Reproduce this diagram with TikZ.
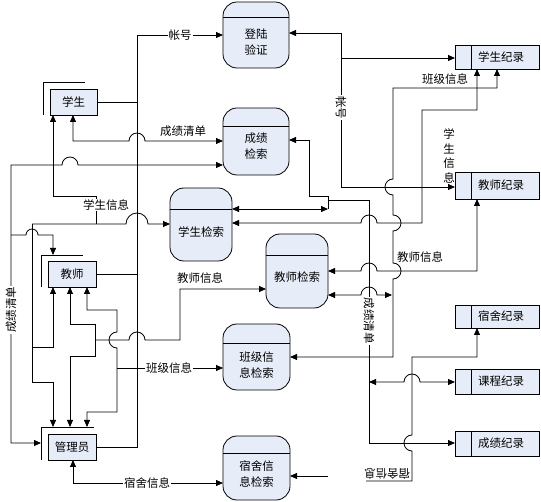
\documentclass[tikz,border=0pt]{standalone}
\usepackage{fontspec}
\newfontfamily\cjk{Noto Sans CJK SC}
\usetikzlibrary{arrows.meta}
\definecolor{boxfill}{RGB}{231,237,248}
\begin{document}
\begin{tikzpicture}[x=1pt,y=1pt,line width=0.8pt,
  >={Triangle[length=7pt,width=6pt]},
  every node/.style={font=\cjk\fontsize{11.5}{16}\selectfont},
  proc/.style={draw,fill=boxfill,rounded corners=14pt,inner sep=0pt,outer sep=0pt},
  store/.style={draw,fill=boxfill,inner sep=0pt,outer sep=0pt,minimum width=84pt},
  ent/.style={draw,fill=boxfill,inner sep=0pt,outer sep=0pt},
  lab/.style={fill=white,inner sep=1pt}]
\useasboundingbox (0,0) rectangle (541,-502);

% external entities
\node[ent,minimum width=47pt,minimum height=26pt] (E1) at (73.5,-102) {学生};
\node[ent,minimum width=48pt,minimum height=26pt] (E2) at (72,-274) {教师};
\node[ent,minimum width=48pt,minimum height=26pt] (E3) at (72,-447) {管理员};
\draw ([xshift=-7pt]E1.south west) -- ([xshift=-7pt,yshift=7pt]E1.north west) -- ([xshift=35pt,yshift=7pt]E1.north west);
\draw ([xshift=-7pt]E2.south west) -- ([xshift=-7pt,yshift=6pt]E2.north west) -- ([xshift=35pt,yshift=6pt]E2.north west);
\draw ([xshift=-7pt]E3.south west) -- ([xshift=-7pt,yshift=7pt]E3.north west) -- ([xshift=46pt,yshift=7pt]E3.north west);
\coordinate (E2n) at ([yshift=6pt]E2.north);
\coordinate (E3n) at ([yshift=7pt]E3.north);
\coordinate (E3w) at ([xshift=-7pt]E3.west);

% processes
\node[proc,minimum width=66pt,minimum height=66pt,label={[yshift=-7pt,align=center]center:登陆\\验证}] (P1) at (256,-35) {};
\node[proc,minimum width=66pt,minimum height=67pt,label={[yshift=-4.5pt,align=center]center:成绩\\检索}] (P2) at (256,-141.5) {};
\node[proc,minimum width=62pt,minimum height=73pt,label={[yshift=-7.5pt]center:学生检索}] (P3) at (201,-224.5) {};
\node[proc,minimum width=62pt,minimum height=74pt,label={[yshift=-6pt]center:教师检索}] (P4) at (297,-271) {};
\node[proc,minimum width=67pt,minimum height=66pt,label={[yshift=-8pt,align=center]center:班级信\\息检索}] (P5) at (256.5,-357) {};
\node[proc,minimum width=67pt,minimum height=64pt,label={[yshift=-6.5pt,align=center]center:宿舍信\\息检索}] (P6) at (256.5,-468) {};
\draw ([yshift=-15pt]P1.north west) -- ([yshift=-15pt]P1.north east);
\draw ([yshift=-18pt]P2.north west) -- ([yshift=-18pt]P2.north east);
\draw ([yshift=-21pt]P3.north west) -- ([yshift=-21pt]P3.north east);
\draw ([yshift=-21pt]P4.north west) -- ([yshift=-21pt]P4.north east);
\draw ([yshift=-19pt]P5.north west) -- ([yshift=-19pt]P5.north east);
\draw ([yshift=-17pt]P6.north west) -- ([yshift=-17pt]P6.north east);

% data stores
\node[store,minimum height=24pt,label={[xshift=4pt]center:学生纪录}] (S1) at (497,-57) {};
\node[store,minimum height=27pt,label={[xshift=4pt]center:教师纪录}] (S2) at (497,-185.5) {};
\node[store,minimum height=23pt,label={[xshift=4pt]center:宿舍纪录}] (S3) at (497,-316.5) {};
\node[store,minimum height=25pt,label={[xshift=4pt]center:课程纪录}] (S4) at (497,-381.5) {};
\node[store,minimum height=25pt,label={[xshift=4pt]center:成绩纪录}] (S5) at (497,-443.5) {};
\foreach \s in {S1,S2,S3,S4,S5}
  \draw ([xshift=16pt]\s.north west) -- ([xshift=16pt]\s.south west);

% 帐号 bus
\draw[->] (E3.east) -- (137,-447) -- (137,-35) -- (P1.west |- 0,-35);
\draw (E1.east) -- (137,-102);
\draw (E2.east) -- (137,-274);
\node[lab] (L1) at (180,-35) {帐号};

% 成绩清单 to 学生
\draw[<->] (E1.south -| 73,0) -- (73,-141) -- (129,-141) arc[start angle=180,end angle=0,radius=8] -- (P2.west |- 0,-141);
\node (L2) at (183,-131) {成绩清单};

% 成绩清单 to 管理员
\draw[<->] (P2.west |- 0,-165) -- (78,-165) arc[start angle=0,end angle=180,radius=8] -- (11,-165) -- (11,-443) -- (E3w |- 0,-443);
\node[lab,rotate=90] (L3) at (11,-310) {成绩清单};
\draw[->] (11,-235) -- (26,-235) arc[start angle=180,end angle=0,radius=6] -- (53,-235) -- (E2n -| 53,0);

% 学生信息 (left)
\draw[<-] (E1.south -| 53,0) -- (53,-196) -- (96,-196) -- (96,-224);
\node[lab] (L4) at (106,-205) {学生信息};
\draw[->] (32,-224) -- (126,-224) arc[start angle=180,end angle=0,radius=11] -- (P3.west |- 0,-224);
\draw[->] (32,-224) -- (32,-382) -- (53,-382) -- (E3n -| 53,0);
\draw[->] (32,-347) -- (53,-347) -- (E2.south -| 53,0);

% 教师 paths
\draw[<->] (E2.south -| 70,0) -- (70,-324) -- (95,-324) -- (95,-356) -- (70,-356) -- (E3n -| 70,0);
\draw[->] (95,-340) -- (129,-340) arc[start angle=180,end angle=0,radius=8] -- (180,-340) -- (180,-289) -- (P4.west |- 0,-289);
\node (L5) at (200,-278) {教师信息};
\draw[<->] (E2.south -| 87,0) -- (87,-310) -- (117,-310) -- (117,-332) arc[start angle=90,end angle=270,radius=8] -- (117,-412) -- (87,-412) -- (E3n -| 87,0);
\draw[->] (117,-368) -- (P5.west |- 0,-368);
\node[lab] (L6) at (169,-368) {班级信息};

% 宿舍信息 (left)
\draw[<->] (E3.south -| 73,0) -- (73,-483) -- (P6.west |- 0,-483);
\node[lab] (L7) at (147,-483) {宿舍信息};

% 登陆验证 to records
\draw[<->] (P1.east |- 0,-33) -- (341,-33) -- (341,-187) -- (S2.west |- 0,-187);
\draw[->] (341,-58) -- (S1.west |- 0,-58);
\node[lab,rotate=-90] (L8) at (341,-108) {帐号};

% 成绩检索 / 学生检索 right side
\draw[<-] (P2.east |- 0,-140) -- (309,-140) -- (309,-196) -- (328,-196) -- (328,-209);
\draw[<->] (P3.east |- 0,-209) -- (328,-209);
\draw[->] (328,-200) -- (369,-200) -- (369,-443) -- (S5.west |- 0,-443);
\node[lab,rotate=-90] (L9) at (369,-321) {成绩清单};
\draw[<->] (369,-382) -- (404,-382) arc[start angle=180,end angle=0,radius=8] -- (S4.west |- 0,-382);

% 教师检索 right side
\draw[<->] (P4.east |- 0,-295) -- (361,-295) arc[start angle=180,end angle=0,radius=8] -- (392,-295);
\draw[<->] (S2.south -| 477,0) -- (477,-271) -- (377,-271) arc[start angle=0,end angle=180,radius=8] -- (P4.east |- 0,-271);
\node (L10) at (420,-257) {教师信息};

% 学生信息 (right)
\draw[<->] (S1.south -| 477,0) -- (477,-110) -- (422,-110) -- (422,-223) -- (377,-223) arc[start angle=0,end angle=180,radius=8] -- (P3.east |- 0,-223);
\node[align=center,font=\cjk\fontsize{11.5}{14.5}\selectfont] (L11) at (449,-156) {学\\生\\信\\息};

% 班级信息 (right)
\draw[<->] (S1.south -| 497,0) -- (497,-88) -- (393,-88) -- (393,-179) arc[start angle=90,end angle=270,radius=8] -- (393,-215) arc[start angle=90,end angle=-90,radius=8] -- (393,-263) arc[start angle=90,end angle=-90,radius=8] -- (393,-357) -- (P5.east |- 0,-357);
\node (L12) at (445,-79) {班级信息};

% 宿舍信息 (right)
\draw[<-] (S3.south -| 477,0) -- (477,-357) -- (412,-357) -- (412,-435) arc[start angle=90,end angle=270,radius=8] -- (412,-481) -- (366,-481) coordinate (fe1);
\draw[<-] (P6.east |- 0,-476) -- (328,-476) coordinate (fe2);
\node[rotate=180] (L13) at (387,-474) {宿舍信息};
\end{tikzpicture}
\end{document}
